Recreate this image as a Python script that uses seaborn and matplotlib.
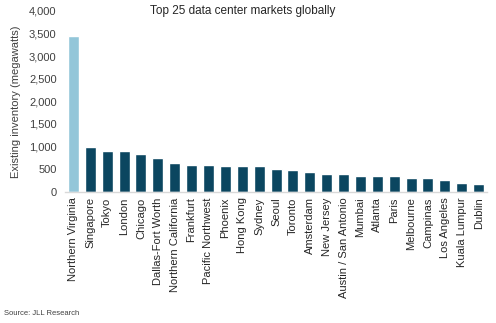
import matplotlib
matplotlib.use("Agg")
import matplotlib.pyplot as plt
import seaborn as sns
import pandas as pd

markets = ["Northern Virginia", "Singapore", "Tokyo", "London", "Chicago",
           "Dallas-Fort Worth", "Northern California", "Frankfurt", "Pacific Northwest",
           "Phoenix", "Hong Kong", "Sydney", "Seoul", "Toronto", "Amsterdam",
           "New Jersey", "Austin / San Antonio", "Mumbai", "Atlanta", "Paris",
           "Melbourne", "Campinas", "Los Angeles", "Kuala Lumpur", "Dublin"]
inventory_mw = [3450, 1000, 910, 895, 830, 735, 640, 580, 580, 578, 565, 565,
                500, 490, 440, 400, 395, 350, 350, 350, 310, 310, 260, 200, 180]
highlight = ["top"] + ["other"] * 24
y_ticks = [0, 500, 1000, 1500, 2000, 2500, 3000, 3500, 4000]

sns.set_theme(style="white")
plt.rcParams["font.family"] = ["Liberation Sans", "DejaVu Sans"]

df = pd.DataFrame({"market": markets, "mw": inventory_mw, "group": highlight})

fig = plt.figure(figsize=(4.96, 3.23), dpi=100)
ax = fig.add_axes([0.131, 0.4065, 0.851, 0.5595])
sns.barplot(data=df, x="market", y="mw", hue="group",
            palette={"top": "#93C6D9", "other": "#0B4660"},
            width=0.65, legend=False, ax=ax, saturation=1)

ax.set_xlim(-0.5, 24.5)
ax.set_ylim(0, 4000)
ax.set_yticks(y_ticks)
ax.set_yticklabels([f"{v:,}" for v in y_ticks], fontsize=8, color="#404040")
ax.tick_params(axis="x", labelrotation=90, labelsize=8, colors="#404040", length=0, pad=4)
ax.tick_params(axis="y", length=0, pad=6)
for lab in ax.get_xticklabels():
    lab.set_color("#262626")
for lab in ax.get_yticklabels():
    lab.set_color("#404040")
ax.set_xlabel("")
ax.set_ylabel("Existing inventory (megawatts)", fontsize=8, color="#404040", labelpad=6)
for s in ["top", "right", "left"]:
    ax.spines[s].set_visible(False)
ax.spines["bottom"].set_color("#D9D9D9")
ax.spines["bottom"].set_linewidth(1)

fig.text(0.49, 0.965, "Top 25 data center markets globally", ha="center", va="center",
         fontsize=8.5, color="#262626")
fig.text(0.008, 0.028, "Source: JLL Research", ha="left", va="center",
         fontsize=5.5, color="#404040")

fig.savefig("out.png", dpi=100)
